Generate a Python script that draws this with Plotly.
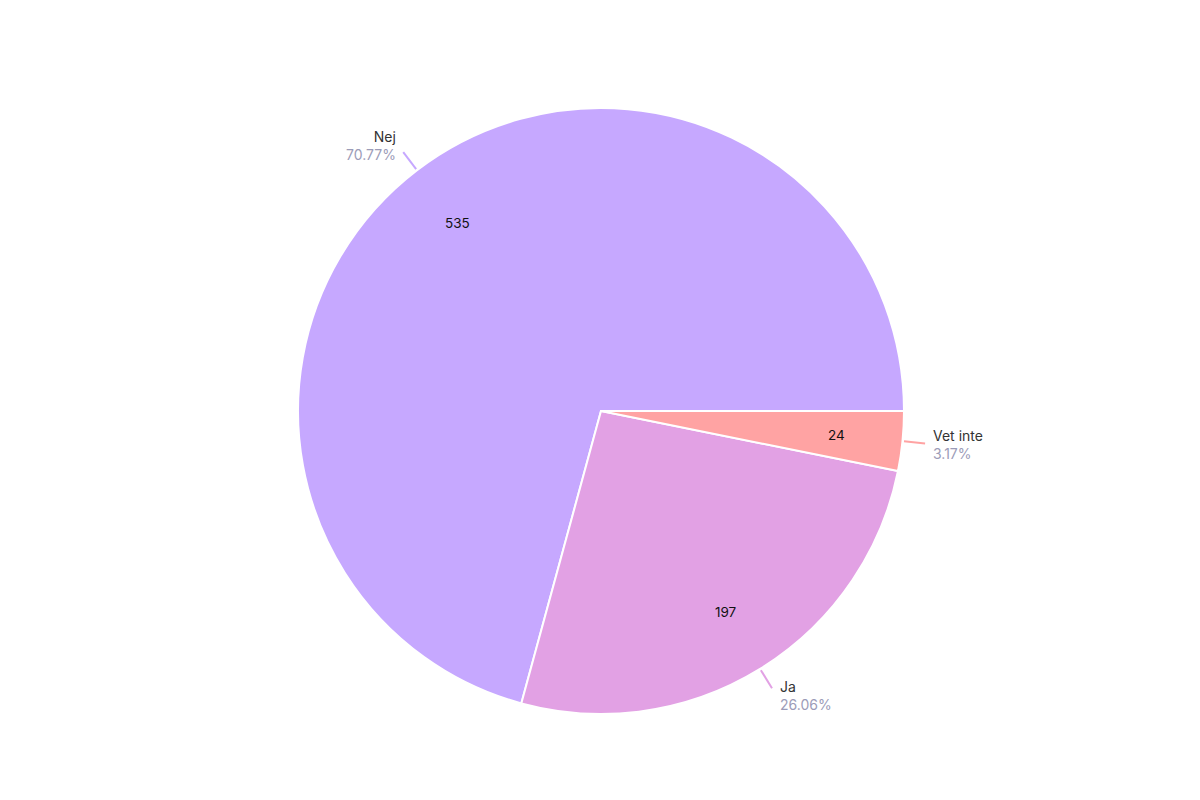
import math
import plotly.graph_objects as go

labels = ["Nej", "Ja", "Vet inte"]
values = [535, 197, 24]
percent_labels = ["70.77%", "26.06%", "3.17%"]
colors = ["#C6A8FF", "#E2A1E4", "#FFA3A3"]

W, H = 1200, 800
OFF = 8  # page offset of the figure (body margin)
CX_PAGE, CY_PAGE, R_PX = 601, 411, 303
CXF, CYF = CX_PAGE - OFF, CY_PAGE - OFF
M_T = CYF - R_PX
M_B = H - CYF - R_PX
M_L = 0
M_R = W - 2 * CXF

total = sum(values)
# first slice starts at 3 o'clock going counterclockwise
rotation = 90 - 360 * values[0] / total

fig = go.Figure(go.Pie(
    labels=labels,
    values=values,
    sort=False,
    direction="counterclockwise",
    rotation=rotation,
    marker=dict(colors=colors, line=dict(color="white", width=2)),
    textinfo="none",
    showlegend=False,
    hoverinfo="label+value+percent",
))

def px_to_paper(x, y):
    x -= OFF
    y -= OFF
    return (x - M_L) / (W - M_L - M_R), (H - M_B - y) / (H - M_T - M_B)

FONT = "Inter, Roboto, sans-serif"
cum = 0
shapes = []
annotations = []
for lab, val, pct, col in zip(labels, values, percent_labels, colors):
    mid = (cum + val / 2) / total * 2 * math.pi
    cum += val
    c, s = math.cos(mid), math.sin(mid)
    # inside value
    vx, vy = CX_PAGE + c * R_PX * 0.78, CY_PAGE - s * R_PX * 0.78
    pv = px_to_paper(vx, vy)
    annotations.append(dict(
        xref="paper", yref="paper", x=pv[0], y=pv[1],
        xanchor="center", yanchor="middle", showarrow=False,
        text=str(val), font=dict(family=FONT, size=13.5, color="#111111"),
    ))
    # leader line
    x0, y0 = CX_PAGE + c * R_PX * 1.005, CY_PAGE - s * R_PX * 1.005
    x1, y1 = CX_PAGE + c * R_PX * 1.075, CY_PAGE - s * R_PX * 1.075
    p0 = px_to_paper(x0, y0)
    p1 = px_to_paper(x1, y1)
    shapes.append(dict(type="line", xref="paper", yref="paper",
                       x0=p0[0], y0=p0[1], x1=p1[0], y1=p1[1],
                       line=dict(color=col, width=2)))
    right = c >= 0
    tx = x1 + (6 if right else -5)
    ty = y1 - s * 9
    pt = px_to_paper(tx, ty)
    annotations.append(dict(
        xref="paper", yref="paper", x=pt[0], y=pt[1],
        xanchor="left" if right else "right", yanchor="middle",
        align="left" if right else "right",
        text=f"<span style='color:#333333'>{lab}</span><br><span style='color:#9c9cb8'>{pct}</span>",
        showarrow=False,
        font=dict(family=FONT, size=14),
    ))

fig.update_layout(
    width=W, height=H,
    margin=dict(t=M_T, b=M_B, l=M_L, r=M_R),
    paper_bgcolor="white",
    plot_bgcolor="white",
    shapes=shapes,
    annotations=annotations,
)

fig.write_html("out.html")
